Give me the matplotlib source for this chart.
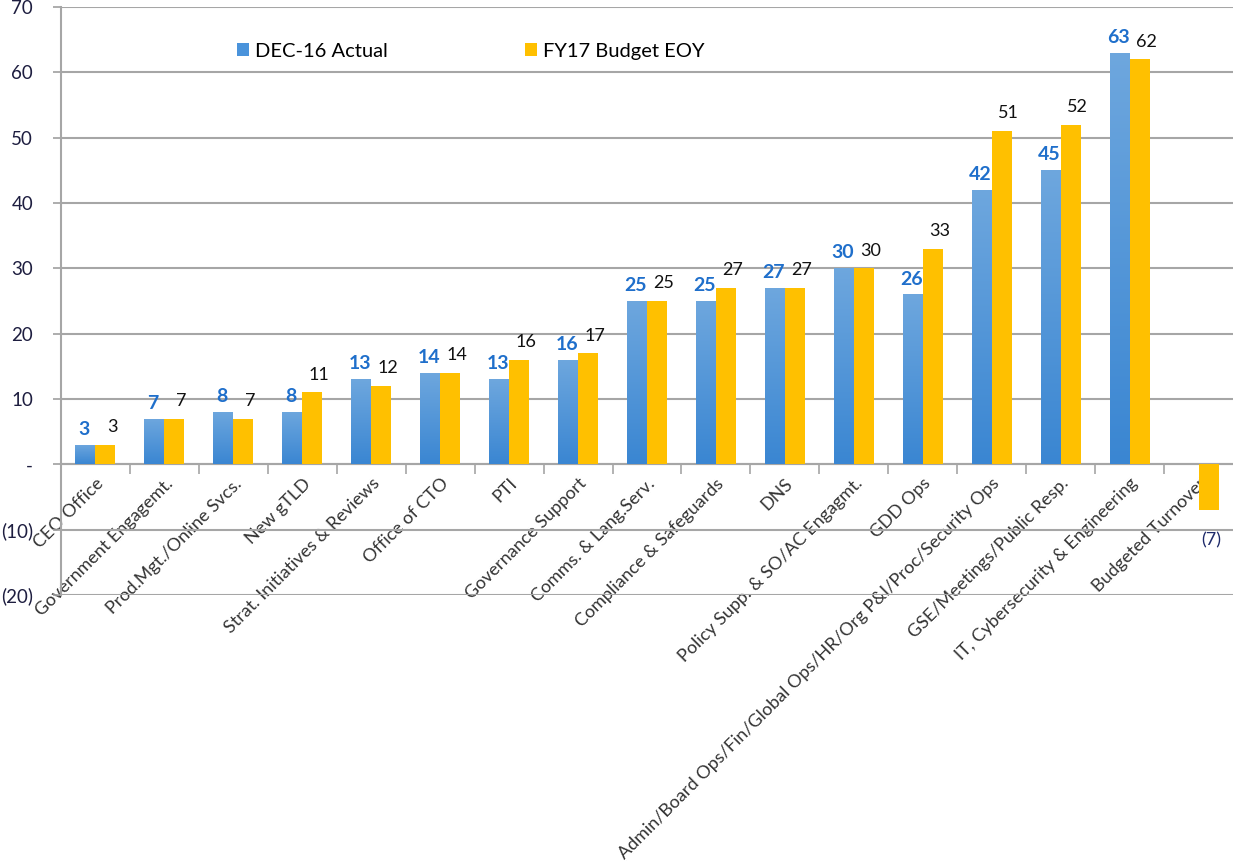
import numpy as np
import matplotlib
matplotlib.use("Agg")
import matplotlib.pyplot as plt
from matplotlib.ticker import FuncFormatter, FixedLocator
from matplotlib.colors import LinearSegmentedColormap

categories = ["CEO Office", "Government Engagemt.", "Prod.Mgt./Online Svcs.", "New gTLD",
              "Strat. Initiatives & Reviews", "Office of CTO", "PTI", "Governance Support",
              "Comms. & Lang.Serv.", "Compliance & Safeguards", "DNS",
              "Policy Supp. & SO/AC Engagmt.", "GDD Ops",
              "Admin/Board Ops/Fin/Global Ops/HR/Org P&I/Proc/Security Ops",
              "GSE/Meetings/Public Resp.", "IT, Cybersecurity & Engineering", "Budgeted Turnover"]
actual = [3, 7, 8, 8, 13, 14, 13, 16, 25, 25, 27, 30, 26, 42, 45, 63, np.nan]
budget = [3, 7, 7, 11, 12, 14, 16, 17, 25, 27, 27, 30, 33, 51, 52, 62, -7]
yticks = [-20, -10, 0, 10, 20, 30, 40, 50, 60, 70]

plt.rcParams['font.family'] = ['Lato', 'DejaVu Sans']

fig = plt.figure(figsize=(12.33, 8.67), dpi=100)
ax = fig.add_axes([61/1233, 1-595/867, 1-61/1233, (595-7)/867])

x = np.arange(len(categories))
w = 0.29
blue = '#4A93DB'
yellow = '#FFC000'
b1 = ax.bar(x - w/2, actual, w, color=blue, label='DEC-16 Actual', zorder=3)
b2 = ax.bar(x + w/2, budget, w, color=yellow, label='FY17 Budget EOY', zorder=3)

# gradient on blue bars
grad = np.linspace(0, 1, 256).reshape(-1, 1)
cmap = LinearSegmentedColormap.from_list('bg', ['#3A86D2', '#6EA7DE'])
for rect in b1:
    h = rect.get_height()
    if np.isnan(h):
        continue
    x0 = rect.get_x(); ww = rect.get_width()
    im = ax.imshow(grad, extent=[x0, x0 + ww, 0, h], origin='lower', aspect='auto',
                   cmap=cmap, zorder=3.5)
    im.set_clip_path(rect)

ax.set_xlim(-0.5, len(categories) - 0.5)
ax.set_ylim(-20, 70)
ax.set_yticks(yticks)

def fmt(v, pos):
    v = int(round(v))
    if v == 0:
        return '-'
    if v < 0:
        return f'({-v})'
    return str(v)
ax.yaxis.set_major_formatter(FuncFormatter(fmt))
ax.tick_params(axis='y', length=6, width=1.2, color='#A0A0A0', labelsize=13.5,
               labelcolor='#1E1E40', pad=14)

ax.grid(axis='y', color='#A6A6A6', linewidth=1.5, zorder=0)
ax.set_axisbelow(True)

for s in ['top', 'right']:
    ax.spines[s].set_visible(False)
ax.spines['left'].set_color('#A6A6A6')
ax.spines['left'].set_linewidth(1.5)
ax.spines['bottom'].set_position(('data', 0))
ax.spines['bottom'].set_color('#A6A6A6')
ax.spines['bottom'].set_linewidth(1.5)

ax.set_xticks(x)
ax.set_xticklabels(categories, rotation=45, ha='right', rotation_mode='anchor',
                   fontsize=13, color='#333333')
ax.tick_params(axis='x', which='major', length=0, pad=8)
ax.xaxis.set_minor_locator(FixedLocator(np.arange(0.5, len(categories) - 0.5, 1)))
ax.tick_params(axis='x', which='minor', length=7, width=1.2, color='#A6A6A6')

for xi, v in zip(x, actual):
    if np.isnan(v):
        continue
    ax.annotate(f'{int(v)}', (xi - w/2, v), xytext=(-1, 5), textcoords='offset points',
                ha='center', va='bottom', fontsize=14, fontweight='bold', color='#1F6FCB')
for xi, v in zip(x, budget):
    if v >= 0:
        ax.annotate(f'{int(v)}', (xi + w/2, v), xytext=(5, 7), textcoords='offset points',
                    ha='center', va='bottom', fontsize=13, color='#111111')
    else:
        ax.annotate(f'({int(-v)})', (xi + w/2, v), xytext=(2, -16), textcoords='offset points',
                    ha='center', va='top', fontsize=13, color='#1E2A6A')

ax.legend(loc='center left', bbox_to_anchor=(0.135, 0.925), ncol=2, frameon=False,
          fontsize=14.5, handlelength=0.6, handleheight=0.6, handletextpad=0.3,
          columnspacing=6.8)

fig.savefig('out.png', dpi=100)
